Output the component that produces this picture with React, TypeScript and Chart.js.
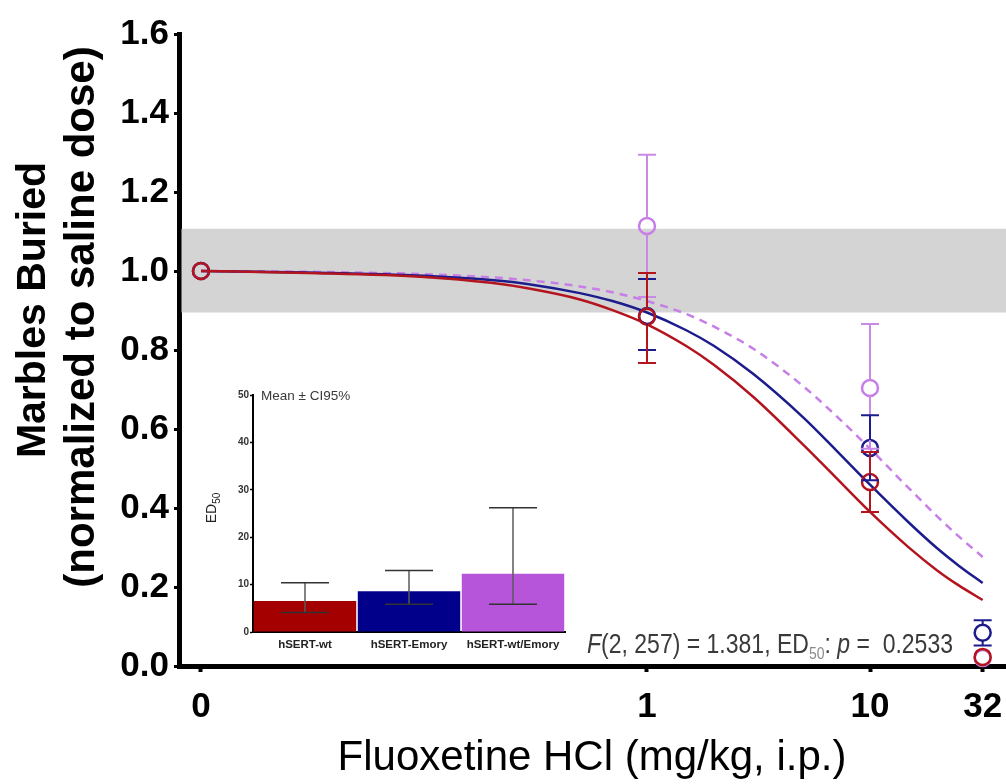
import React, { useEffect, useRef } from 'react';
import { Chart, registerables } from 'chart.js';
Chart.register(...registerables);

// ---------- main chart data ----------
const doses = [0, 1, 10, 32];
const xTickDoses = [0, 1, 10, 32];
const xTickLabels = ['0', '1', '10', '32'];
const ZERO_POS = 0.01; // where the "0" dose sits on the log axis

const wtMean = [1.0, 0.884, 0.466, 0.023];
const wtLow = [1.0, 0.767, 0.39, 0.008];
const wtHigh = [1.0, 0.995, 0.542, 0.038];

const emMean = [1.0, 0.886, 0.552, 0.084];
const emLow = [1.0, 0.8, 0.47, 0.052];
const emHigh = [1.0, 0.98, 0.635, 0.116];

const mixMean = [1.0, 1.114, 0.704, 0.02];
const mixLow = [1.0, 0.934, 0.55, 0.008];
const mixHigh = [1.0, 1.294, 0.866, 0.034];

// fitted curves
const curveDoses = [0, 0.03, 0.1, 0.2, 0.3, 0.5, 0.7, 1, 1.5, 2, 3, 5, 7, 10, 15, 20, 25, 32];
const wtCurve = [1.0, 0.995, 0.985, 0.97, 0.955, 0.928, 0.901, 0.865, 0.81, 0.762, 0.681, 0.561, 0.478, 0.39, 0.299, 0.242, 0.204, 0.167];
const emCurve = [1.0, 0.996, 0.988, 0.977, 0.966, 0.944, 0.924, 0.895, 0.85, 0.81, 0.739, 0.63, 0.548, 0.459, 0.362, 0.298, 0.254, 0.21];
const mixCurve = [1.0, 0.998, 0.992, 0.984, 0.976, 0.961, 0.946, 0.924, 0.891, 0.859, 0.803, 0.709, 0.635, 0.55, 0.449, 0.379, 0.328, 0.276];

const bandLow = 0.895;
const bandHigh = 1.107;

// ---------- inset data ----------
const insetLabels = ['hSERT-wt', 'hSERT-Emory', 'hSERT-wt/Emory'];
const ed50Mean = [6.55, 8.6, 12.3];
const ed50Low = [4.1, 5.85, 5.85];
const ed50High = [10.4, 12.95, 26.2];

const RED = '#b3141e';
const BLUE = '#1c1c8c';
const PURPLE = '#c77ee6';
const PURPLE_ERR = '#c98ae6';
const BAR_COLORS = ['#a40000', '#00008a', '#b655d9'];
const FONT = '"Liberation Sans", Arial, Helvetica, sans-serif';

const pos = (d: number) => (d === 0 ? ZERO_POS : d);

const series = [
  { mean: wtMean, low: wtLow, high: wtHigh, color: RED, err: RED },
  { mean: emMean, low: emLow, high: emHigh, color: BLUE, err: BLUE },
  { mean: mixMean, low: mixLow, high: mixHigh, color: PURPLE, err: PURPLE_ERR },
];

const R = 8;

const mainPlugin = {
  id: 'mainExtras',
  beforeDatasetsDraw(chart: any) {
    const { ctx, chartArea, scales } = chart;
    const y = scales.y;
    const yTop = y.getPixelForValue(bandHigh);
    const yBot = y.getPixelForValue(bandLow);
    ctx.save();
    ctx.fillStyle = '#d4d4d4';
    ctx.fillRect(chartArea.left + 2.5, yTop, chartArea.right - chartArea.left - 2.5 + 1, yBot - yTop);
    ctx.restore();
  },
  afterDatasetsDraw(chart: any) {
    const { ctx, scales } = chart;
    const x = scales.x;
    const y = scales.y;
    ctx.save();
    ctx.lineWidth = 2;
    for (let s = series.length - 1; s >= 0; s--) {
      const ser = series[s];
      ctx.strokeStyle = ser.err;
      for (let i = 0; i < doses.length; i++) {
        const px = x.getPixelForValue(pos(doses[i]));
        const pm = y.getPixelForValue(ser.mean[i]);
        const ph = y.getPixelForValue(ser.high[i]);
        const pl = y.getPixelForValue(ser.low[i]);
        ctx.beginPath();
        if (pm - R > ph) {
          ctx.moveTo(px, pm - R);
          ctx.lineTo(px, ph);
          ctx.moveTo(px - 9, ph);
          ctx.lineTo(px + 9, ph);
        }
        if (pl > pm + R) {
          ctx.moveTo(px, pm + R);
          ctx.lineTo(px, pl);
          ctx.moveTo(px - 9, pl);
          ctx.lineTo(px + 9, pl);
        }
        ctx.stroke();
      }
    }
    ctx.restore();
  },
  afterDraw(chart: any) {
    const { ctx } = chart;
    ctx.save();
    ctx.fillStyle = '#000';
    ctx.textAlign = 'center';
    ctx.textBaseline = 'alphabetic';
    ctx.save();
    ctx.translate(45, 310);
    ctx.rotate(-Math.PI / 2);
    ctx.font = `bold 41px ${FONT}`;
    ctx.fillText('Marbles Buried', 0, 0);
    ctx.restore();
    ctx.save();
    ctx.translate(94, 317);
    ctx.rotate(-Math.PI / 2);
    ctx.font = `bold 42px ${FONT}`;
    ctx.fillText('(normalized to saline dose)', 0, 0);
    ctx.restore();

    // statistics annotation
    const parts = [
      { t: 'F', it: true, sub: false },
      { t: '(2, 257) = 1.381, ED', it: false, sub: false },
      { t: '50', it: false, sub: true },
      { t: ': ', it: false, sub: false },
      { t: 'p', it: true, sub: false },
      { t: ' =  0.2533', it: false, sub: false },
    ];
    const fontFor = (p: any) => (p.sub ? `17px ${FONT}` : `${p.it ? 'italic ' : ''}28px ${FONT}`);
    ctx.textAlign = 'left';
    let w = 0;
    for (const p of parts) {
      ctx.font = fontFor(p);
      w += ctx.measureText(p.t).width;
    }
    const sx = 366 / w;
    ctx.translate(587, 653);
    ctx.scale(sx, 1);
    let cx = 0;
    for (const p of parts) {
      ctx.font = fontFor(p);
      ctx.fillStyle = p.sub ? '#8a8a8a' : '#3a3a3a';
      ctx.fillText(p.t, cx, p.sub ? 6 : 0);
      cx += ctx.measureText(p.t).width;
    }
    ctx.restore();
  },
};

const insetPlugin = {
  id: 'insetExtras',
  afterDatasetsDraw(chart: any) {
    const { ctx, scales } = chart;
    const x = scales.x;
    const y = scales.y;
    ctx.save();
    ctx.lineWidth = 1.5;
    for (let i = 0; i < ed50Mean.length; i++) {
      const px = x.getPixelForValue(i);
      const ph = y.getPixelForValue(ed50High[i]);
      const pl = y.getPixelForValue(ed50Low[i]);
      ctx.strokeStyle = '#5a5a5a';
      ctx.beginPath();
      ctx.moveTo(px, ph);
      ctx.lineTo(px, pl);
      ctx.stroke();
      ctx.strokeStyle = '#333';
      ctx.beginPath();
      ctx.moveTo(px - 24, ph);
      ctx.lineTo(px + 24, ph);
      ctx.moveTo(px - 24, pl);
      ctx.lineTo(px + 24, pl);
      ctx.stroke();
    }
    ctx.restore();
  },
  afterDraw(chart: any) {
    const { ctx, chartArea } = chart;
    ctx.save();
    ctx.fillStyle = '#3a3a3a';
    ctx.font = `13.5px ${FONT}`;
    ctx.textAlign = 'left';
    ctx.textBaseline = 'middle';
    ctx.fillText('Mean \u00b1 CI95%', chartArea.left + 8, chartArea.top + 1);
    // y title ED50
    ctx.translate(36, 128);
    ctx.rotate(-Math.PI / 2);
    ctx.textBaseline = 'alphabetic';
    ctx.fillStyle = '#222';
    ctx.font = `14px ${FONT}`;
    const w1 = ctx.measureText('ED').width;
    ctx.font = `10px ${FONT}`;
    const w2 = ctx.measureText('50').width;
    const start = -(w1 + w2) / 2;
    ctx.font = `14px ${FONT}`;
    ctx.fillText('ED', start, 0);
    ctx.font = `10px ${FONT}`;
    ctx.fillText('50', start + w1, 4);
    ctx.restore();
  },
};

export default function App() {
  const mainRef = useRef<HTMLCanvasElement>(null);
  const insetRef = useRef<HTMLCanvasElement>(null);

  useEffect(() => {
    const curve = (vals: number[], color: string, dash: number[] | undefined) => ({
      type: 'line',
      data: curveDoses.map((d, i) => ({ x: pos(d), y: vals[i] })),
      borderColor: color,
      borderWidth: 2.5,
      borderDash: dash || [],
      pointRadius: 0,
      cubicInterpolationMode: 'monotone',
      fill: false,
      order: 10,
      clip: false,
    });
    const pts = (vals: number[], color: string) => ({
      type: 'line',
      data: doses.map((d, i) => ({ x: pos(d), y: vals[i] })),
      showLine: false,
      pointRadius: R,
      pointBorderWidth: 2.5,
      pointBorderColor: color,
      pointBackgroundColor: 'rgba(0,0,0,0)',
      order: 0,
      clip: false,
    });

    const main = new Chart(mainRef.current as HTMLCanvasElement, {
      type: 'line',
      data: {
        datasets: [
          pts(wtMean, RED),
          pts(emMean, BLUE),
          pts(mixMean, PURPLE),
          curve(wtCurve, RED, undefined),
          curve(emCurve, BLUE, undefined),
          curve(mixCurve, PURPLE, [8, 6]),
        ] as any,
      },
      options: {
        animation: false,
        responsive: false,
        devicePixelRatio: 1,
        events: [],
        layout: { autoPadding: false, padding: { top: 34, right: 1, left: 0, bottom: 0 } },
        plugins: { legend: { display: false }, tooltip: { enabled: false } },
        scales: {
          x: {
            type: 'logarithmic',
            min: 0.00797,
            max: 40.3,
            afterBuildTicks: (s: any) => {
              s.ticks = xTickDoses.map((d) => ({ value: pos(d) }));
            },
            afterFit: (s: any) => {
              s.height = 118;
              s.paddingLeft = 0;
              s.paddingRight = 0;
            },
            ticks: {
              autoSkip: false,
              maxRotation: 0,
              padding: 0,
              color: '#000',
              font: { family: FONT, size: 35, weight: 'bold', lineHeight: 2 },
              callback: (_v: any, i: number) => xTickLabels[i],
            },
            grid: { display: true, drawOnChartArea: false, drawTicks: true, tickLength: 6, tickWidth: 4, color: '#000' },
            border: { display: true, width: 5, color: '#000' },
            title: {
              display: true,
              text: 'Fluoxetine HCl (mg/kg, i.p.)',
              color: '#000',
              font: { family: FONT, size: 42 },
              padding: { top: 0, bottom: 0 },
            },
          },
          y: {
            min: 0,
            max: 1.6,
            afterFit: (s: any) => {
              s.width = 179;
              s.paddingTop = 0;
              s.paddingBottom = 0;
            },
            ticks: {
              stepSize: 0.2,
              padding: 5,
              color: '#000',
              font: { family: FONT, size: 35, weight: 'bold' },
              callback: (v: any) => Number(v).toFixed(1),
            },
            grid: { display: true, drawOnChartArea: false, drawTicks: true, tickLength: 5, tickWidth: 3, color: '#000' },
            border: { display: true, width: 5, color: '#000' },
          },
        },
      } as any,
      plugins: [mainPlugin],
    });

    const inset = new Chart(insetRef.current as HTMLCanvasElement, {
      type: 'bar',
      data: {
        labels: insetLabels,
        datasets: [
          {
            data: ed50Mean,
            backgroundColor: BAR_COLORS,
            borderWidth: 0,
            barPercentage: 0.985,
            categoryPercentage: 1,
          },
        ],
      },
      options: {
        animation: false,
        responsive: false,
        devicePixelRatio: 1,
        events: [],
        layout: { autoPadding: false, padding: { top: 15, right: 15, left: 0, bottom: 0 } },
        plugins: { legend: { display: false }, tooltip: { enabled: false } },
        scales: {
          x: {
            afterFit: (s: any) => {
              s.height = 33;
              s.paddingLeft = 0;
              s.paddingRight = 0;
            },
            grid: { display: false, drawTicks: false },
            border: { display: true, width: 2, color: '#000' },
            ticks: { padding: 6, color: '#222', font: { family: FONT, size: 11.5, weight: 'bold' } },
          },
          y: {
            min: 0,
            max: 50,
            afterFit: (s: any) => {
              s.width = 73;
            },
            ticks: { stepSize: 10, padding: 1, color: '#333', font: { family: FONT, size: 10, weight: 'bold' } },
            grid: { display: true, drawOnChartArea: false, drawTicks: true, tickLength: 3, tickWidth: 1.5, color: '#000' },
            border: { display: true, width: 2, color: '#000' },
          },
        },
      } as any,
      plugins: [insetPlugin],
    });

    return () => {
      main.destroy();
      inset.destroy();
    };
  }, []);

  return (
    <div style={{ position: 'absolute', left: 0, top: 0, width: 1006, height: 784, background: '#fff' }}>
      <canvas ref={mainRef} width={1006} height={784} style={{ position: 'absolute', left: 0, top: 0 }} />
      <canvas ref={insetRef} width={400} height={285} style={{ position: 'absolute', left: 180, top: 380 }} />
    </div>
  );
}
